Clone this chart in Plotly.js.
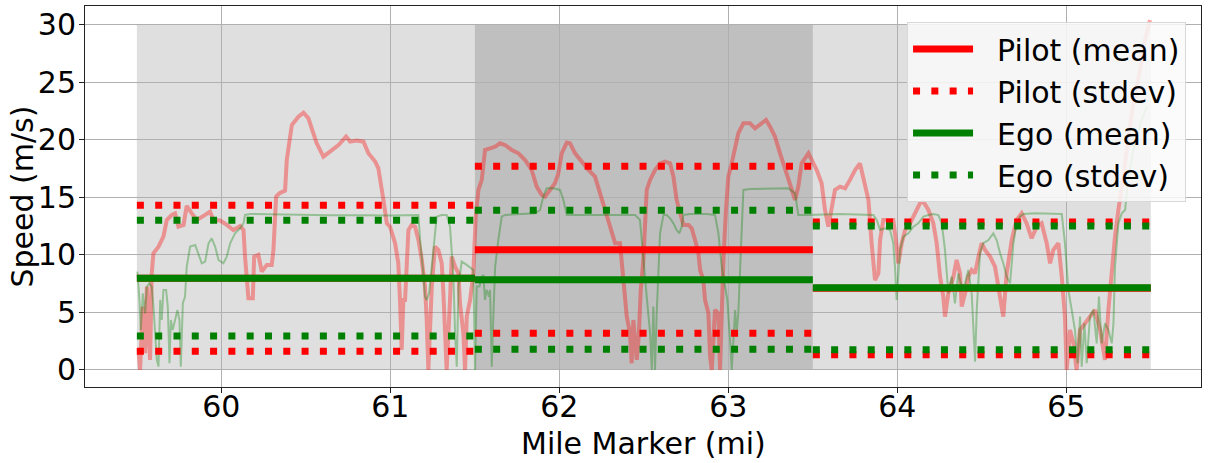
<!DOCTYPE html>
<html>
<head>
<meta charset="utf-8">
<script src="https://cdn.plot.ly/plotly-3.0.1.min.js"></script>
<style>html,body{margin:0;padding:0;background:#fff;}#chart{width:1208px;height:463px;}</style>
</head>
<body>
<div id="chart"></div>
<script>
// ---- data ----
const segStart = [59.5, 61.5, 63.5];
const segEnd   = [61.5, 63.5, 65.5];
const pilotMean = [7.96, 10.43, 7.09];
const pilotStd  = [6.33, 7.25, 5.76];
const egoMean   = [7.97, 7.83, 7.13];
const egoStd    = [5.03, 6.03, 5.37];

const pilotMile = [59.509,59.519,59.535,59.549,59.559,59.568,59.578,59.588,59.598,59.628,59.657,59.677,59.707,59.726,59.746,59.776,59.795,59.825,59.854,59.904,59.933,59.953,59.993,60.032,60.071,60.111,60.131,60.140,60.150,60.160,60.186,60.194,60.219,60.239,60.269,60.298,60.308,60.324,60.344,60.377,60.387,60.417,60.456,60.486,60.515,60.545,60.564,60.604,60.643,60.693,60.738,60.762,60.801,60.841,60.870,60.910,60.929,60.949,60.959,60.979,
60.998,61.028,61.047,61.057,61.067,61.077,61.087,61.107,61.126,61.146,61.166,61.186,61.205,61.215,61.225,61.245,61.264,61.284,61.304,61.314,61.333,61.353,61.363,61.383,61.403,61.412,61.432,61.442,61.452,61.472,61.491,61.505,61.521,61.541,61.550,61.560,61.590,61.620,61.649,61.679,61.718,61.758,61.797,61.836,61.866,61.896,61.915,61.945,61.974,61.994,62.014,62.044,62.063,62.093,62.132,62.172,62.211,62.241,62.270,62.300,62.330,62.359,62.369,62.379,62.399,62.418,62.428,62.438,62.458,62.470,62.482,62.497,62.507,
62.517,62.537,62.566,62.596,62.625,62.655,62.675,62.694,62.714,62.734,62.764,62.783,62.803,62.823,62.833,62.852,62.862,62.882,62.892,62.902,62.921,62.941,62.951,62.961,62.971,62.986,63.000,63.020,63.040,63.059,63.089,63.128,63.158,63.188,63.223,63.247,63.276,63.306,63.345,63.375,63.395,63.414,63.434,63.474,63.493,63.523,63.552,63.572,63.592,63.612,63.631,63.661,63.691,63.720,63.750,63.779,63.799,63.829,63.848,63.868,63.888,63.898,63.917,63.947,63.976,63.996,
64.006,64.026,64.046,64.075,64.105,64.134,64.154,64.184,64.213,64.233,64.253,64.272,64.282,64.302,64.332,64.351,64.371,64.381,64.401,64.420,64.440,64.460,64.480,64.499,64.519,64.549,64.578,64.608,64.627,64.647,64.677,64.706,64.736,64.765,64.795,64.825,64.854,64.884,64.904,64.923,64.953,64.973,64.992,65.002,65.022,65.042,65.061,65.081,65.111,65.140,65.170,65.200,65.229,65.249,65.269,65.288,65.308,65.338,65.367,65.397,65.436,65.466,65.495];
const pilotSpeed = [1.88,0,5.5,1.45,7.24,4.34,0.87,8.39,10.13,10.71,11.58,13.02,13.46,13.6,12.44,12.59,14.24,13.6,13.02,13.46,13.75,13.02,12.97,12.59,12.15,12.5,12.15,9.84,8.39,6.22,6.22,9.84,9.99,8.54,9.12,9.12,10.42,15.05,15.34,15.57,18.23,21.27,21.99,22.34,21.85,20.55,19.68,18.52,18.96,19.53,20.26,19.82,19.91,19.82,18.81,18.09,17.51,15.92,14.76,12.73,
12.44,11.0,9.26,6.08,1.74,6.08,6.08,12.15,12.59,12.44,11.29,9.55,7.24,4.34,0,7.24,10.71,10.42,9.26,6.66,0,6.08,9.84,8.97,8.39,5.79,3.19,0,4.63,6.08,8.39,13.31,15.63,16.5,17.65,19.1,19.24,19.39,19.68,19.53,19.1,18.81,18.23,17.36,15.92,15.19,15.05,15.63,16.21,17.07,18.81,19.74,19.68,18.81,18.09,17.36,16.79,15.34,14.18,12.73,11.0,11.0,9.26,7.24,4.63,3.19,0.58,4.34,0.87,3.0,7.0,9.5,12.5,
15.63,16.5,17.36,17.94,18.09,17.94,16.79,14.76,13.6,12.59,12.59,12.3,11.29,10.13,8.68,7.81,6.08,4.92,1.16,0,5.21,4.92,0,5.5,9.55,13.89,16.79,17.94,19.1,20.55,21.41,21.41,20.98,21.27,21.7,21.12,20.26,18.81,17.07,15.92,14.76,15.92,17.94,18.81,18.23,17.36,16.21,13.89,12.44,13.89,15.63,15.92,15.77,16.5,17.36,17.94,16.79,14.76,11.0,7.81,8.39,11.29,13.02,13.02,13.02,10.71,
9.26,11.0,12.15,12.73,13.6,14.47,14.61,13.89,12.73,11.0,8.1,6.37,4.63,6.66,8.1,9.55,8.39,5.5,6.66,8.1,8.68,8.39,9.84,11.0,10.42,9.84,8.97,6.37,4.63,8.39,11.29,13.02,13.6,12.73,11.43,12.44,12.73,11.0,9.26,10.42,11.0,8.1,4.63,0,3.47,2.31,0,3.47,4.05,4.63,5.21,3.47,0.87,5.21,8.68,11.57,13.89,16.78,20.25,23.15,26.04,28.65,30.38];

const egoMile = [59.503,59.515,59.523,59.535,59.549,59.559,59.574,59.588,59.598,59.608,59.618,59.628,59.638,59.647,59.657,59.673,59.683,59.693,59.701,59.712,59.726,59.740,59.752,59.760,59.772,59.785,59.795,59.815,59.845,59.864,59.884,59.904,59.924,59.943,59.963,59.983,60.012,60.032,60.052,60.081,60.111,60.131,60.140,60.170,60.249,60.348,60.446,60.643,60.841,60.998,
61.166,61.176,61.195,61.205,61.215,61.229,61.245,61.264,61.274,61.304,61.333,61.353,61.363,61.373,61.383,61.393,61.403,61.422,61.452,61.481,61.491,61.501,61.511,61.527,61.541,61.550,61.560,61.570,61.584,61.590,61.600,61.610,61.620,61.639,61.659,61.679,61.758,61.856,61.886,61.905,61.925,61.965,62.004,62.024,62.044,62.152,62.251,62.349,62.448,62.477,62.487,
62.507,62.517,62.537,62.547,62.556,62.566,62.576,62.596,62.616,62.635,62.655,62.675,62.694,62.710,62.724,62.734,62.773,62.872,62.921,62.941,62.961,62.980,62.994,63.010,63.020,63.040,63.049,63.059,63.069,63.079,63.089,63.128,63.266,63.355,63.395,63.414,63.464,63.661,63.858,63.878,63.898,63.927,63.957,63.976,63.986,63.996,64.016,
64.036,64.065,64.095,64.124,64.154,64.184,64.213,64.243,64.263,64.282,64.302,64.322,64.341,64.361,64.381,64.401,64.420,64.440,64.460,64.470,64.489,64.509,64.539,64.568,64.588,64.608,64.627,64.647,64.667,64.687,64.706,64.726,64.746,64.815,64.894,64.973,64.992,65.012,65.032,65.051,65.067,65.081,65.091,65.107,65.121,65.140,65.160,65.180,65.193,65.209,65.229,65.249,65.269,65.279,65.288,65.308,65.328,65.348,65.367,65.406,65.446,65.476];
const egoSpeed = [8.54,6.08,3.47,6.66,4.92,7.24,7.53,7.24,5.5,3.19,0.87,0.29,6.08,4.34,6.95,6.95,5.5,0.58,4.34,3.47,4.34,5.21,4.34,0.29,5.79,6.37,8.97,10.71,10.85,10.13,9.26,9.41,11.0,11.43,10.71,9.55,9.26,9.84,11.0,11.87,12.3,12.73,13.46,13.54,13.52,13.54,13.46,13.43,13.43,13.4,
13.46,11.29,8.39,6.37,6.08,6.66,8.97,11.87,13.31,13.46,13.46,12.44,10.42,8.1,3.19,0.29,7.24,9.41,9.12,8.83,8.68,0,7.24,7.24,8.1,8.25,6.08,6.95,6.37,6.95,0.29,4.92,8.97,11.29,13.31,13.46,13.52,13.6,13.89,15.05,15.77,15.77,15.63,14.76,13.46,13.46,13.46,13.52,13.46,13.02,11.29,
7.53,6.37,3.19,0,5.5,0,4.92,11.87,13.46,13.46,13.17,12.73,12.15,11.87,12.44,13.46,13.54,13.54,13.46,11.87,8.97,7.24,6.08,2.61,0,5.21,3.19,4.92,8.97,13.31,15.63,15.71,15.74,15.77,15.34,13.46,13.46,13.54,13.46,13.02,12.15,12.3,12.15,11.0,8.97,6.08,10.42,
11.57,11.86,12.44,12.73,13.31,13.45,13.54,13.45,12.73,10.42,6.66,8.1,5.79,8.39,7.23,7.52,8.68,6.66,0.72,5.21,10.13,11.0,11.28,11.86,11.28,10.13,9.26,8.1,7.52,11.0,12.73,13.31,13.54,13.6,13.6,13.54,11.0,6.95,5.21,3.47,0.58,4.63,0.29,4.05,0.58,4.63,5.21,2.31,6.37,2.31,4.05,3.47,2.31,4.05,8.97,12.73,13.6,13.89,16.78,19.68,21.7,22.86];

const xTicks = [60, 61, 62, 63, 64, 65];
const yTicks = [0, 5, 10, 15, 20, 25, 30];
const legendNames = ['Pilot (mean)', 'Pilot (stdev)', 'Ego (mean)', 'Ego (stdev)'];
const xTitle = 'Mile Marker (mi)';
const yTitle = 'Speed (m/s)';

// ---- build ----
function meanLines(means) {
  const x = [], y = [];
  for (let i = 0; i < segStart.length; i++) {
    x.push(segStart[i], segEnd[i], null); y.push(means[i], means[i], null);
  }
  return {x, y};
}
function stdLines(means, stds) {
  const x = [], y = [];
  for (let i = 0; i < segStart.length; i++) {
    x.push(segStart[i], segEnd[i], null); y.push(means[i] + stds[i], means[i] + stds[i], null);
  }
  for (let i = 0; i < segStart.length; i++) {
    x.push(segStart[i], segEnd[i], null); y.push(means[i] - stds[i], means[i] - stds[i], null);
  }
  return {x, y};
}

const font = {family: 'DejaVu Sans, sans-serif', size: 30, color: '#000'};
const dots = '7px,11.3px';
const pad = '\u00A0\u00A0';

const pm = meanLines(pilotMean);
const ps = stdLines(pilotMean, pilotStd);
const em = meanLines(egoMean);
const es = stdLines(egoMean, egoStd);

const traces = [
  {x: pilotMile, y: pilotSpeed, mode: 'lines', line: {color: 'rgba(255,0,0,0.35)', width: 4}, showlegend: false, hoverinfo: 'skip'},
  {x: egoMile, y: egoSpeed, mode: 'lines', line: {color: 'rgba(0,128,0,0.33)', width: 2}, showlegend: false, hoverinfo: 'skip'},
  {x: pm.x, y: pm.y, mode: 'lines', name: pad + legendNames[0], line: {color: 'red', width: 7}},
  {x: ps.x, y: ps.y, mode: 'lines', name: pad + legendNames[1], line: {color: 'red', width: 7, dash: dots}},
  {x: em.x, y: em.y, mode: 'lines', name: pad + legendNames[2], line: {color: 'green', width: 7}},
  {x: es.x, y: es.y, mode: 'lines', name: pad + legendNames[3], line: {color: 'green', width: 7, dash: dots}}
];

const shadeColors = ['rgba(128,128,128,0.25)', 'rgba(128,128,128,0.5)', 'rgba(128,128,128,0.25)'];
const shapes = segStart.map((s, i) => ({
  type: 'rect', xref: 'x', yref: 'y', x0: s, x1: segEnd[i], y0: 0, y1: 30,
  fillcolor: shadeColors[i], line: {width: 0}, layer: 'below'
}));

const layout = {
  width: 1208, height: 463,
  margin: {l: 85, r: 7, t: 6, b: 76},
  paper_bgcolor: '#fff', plot_bgcolor: '#fff',
  font: font,
  showlegend: true,
  legend: {
    x: 0.9866, xanchor: 'right', y: 0.958, yanchor: 'top',
    bgcolor: 'rgba(250,250,250,0.85)', bordercolor: '#d8d8d8', borderwidth: 1,
    font: font, itemwidth: 60
  },
  xaxis: {
    range: [59.193, 65.797], tickvals: xTicks, ticktext: xTicks.map(String),
    showgrid: true, gridcolor: '#b0b0b0', gridwidth: 1, zeroline: false,
    showline: true, mirror: true, linecolor: '#222', linewidth: 1,
    ticks: 'outside', ticklen: 5, tickcolor: '#222', tickfont: font,
    ticklabelstandoff: -12
  },
  yaxis: {
    range: [-1.48, 31.6], tickvals: yTicks, ticktext: yTicks.map(String),
    showgrid: true, gridcolor: '#b0b0b0', gridwidth: 1, zeroline: false,
    showline: true, mirror: true, linecolor: '#222', linewidth: 1,
    ticks: 'outside', ticklen: 5, tickcolor: '#222', tickfont: font,
    ticklabelstandoff: -3
  },
  annotations: [
    {text: xTitle, xref: 'paper', yref: 'paper', x: 0.5, y: -0.1417, xanchor: 'center', yanchor: 'middle',
     yshift: -3, showarrow: false, font: font},
    {text: yTitle, xref: 'paper', yref: 'paper', x: -0.0564, y: 0.5, xanchor: 'center', yanchor: 'middle',
     textangle: -90, showarrow: false, font: font}
  ],
  shapes: shapes
};

Plotly.newPlot('chart', traces, layout, {displayModeBar: false, staticPlot: true});
</script>
</body>
</html>
